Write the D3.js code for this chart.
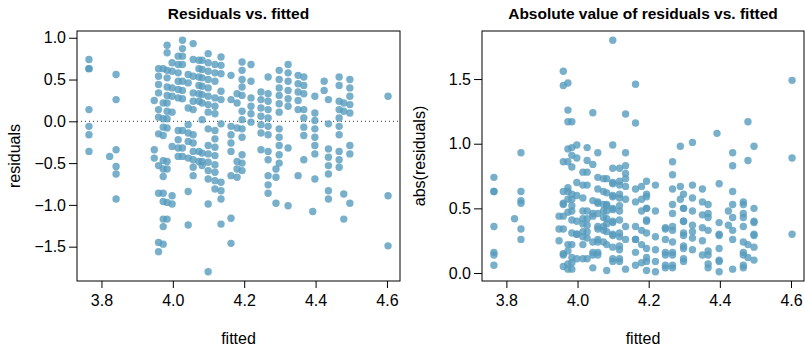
<!DOCTYPE html>
<html>
<head>
<meta charset="utf-8">
<script src="https://cdn.jsdelivr.net/npm/d3@7"></script>
<style>
  body { margin: 0; background: #fff; }
  svg { font-family: "Liberation Sans", Arial, Helvetica, sans-serif; }
</style>
</head>
<body>
<div id="chart"></div>
<script>
// fitted value of each vertical stripe, and the residuals
const fittedLevels = [3.765, 3.823, 3.841, 3.948, 3.96, 3.973, 3.984, 3.998, 4.015, 4.027,
  4.043, 4.057, 4.073, 4.082, 4.099, 4.118, 4.135, 4.163, 4.18, 4.194,
  4.219, 4.247, 4.267, 4.289, 4.298, 4.323, 4.351, 4.367, 4.392, 4.398,
  4.424, 4.436, 4.466, 4.479, 4.496, 4.603];

const residualGroups = [
  [0.74, 0.63, 0.63, 0.14, -0.06, -0.16, -0.36],
  [-0.42],
  [0.56, 0.26, -0.34, -0.54, -0.63, -0.93],
  [0.25, -0.34, -0.44],
  [0.63, 0.54, 0.44, 0.34, 0.14, 0.05, -0.15, -0.53, -0.86, -1.45, -1.56],
  [0.63, 0.22, 0.03, -0.07, -0.17, -0.47, -0.57, -0.66, -0.86, -0.96, -1.17, -1.26, -1.47],
  [0.91, 0.82, 0.61, 0.52, 0.41, 0.31, 0.22, 0.12, 0.03, -0.08, -0.48, -0.57, -0.97, -1.17],
  [0.70, 0.60, 0.40, 0.30, 0.11, -0.30, -0.89, -0.99],
  [0.78, 0.68, 0.58, 0.48, 0.38, 0.28, -0.11, -0.22, -0.32, -0.42],
  [0.97, 0.87, 0.78, 0.68, 0.48, 0.37, 0.27, -0.11, -0.32, -0.42],
  [0.56, 0.46, 0.16, -0.04, -0.14, -0.24, -0.44, -0.84, -1.24],
  [0.93, 0.74, 0.54, 0.34, 0.24, 0.14, -0.16, -0.26, -0.36, -0.46, -0.55, -0.65],
  [0.73, 0.63, 0.53, 0.43, 0.33, 0.24, -0.36, -0.48],
  [0.73, 0.62, 0.52, 0.42, 0.32, 0.22, 0.02, -0.38, -0.48, -0.53],
  [0.81, 0.70, 0.60, 0.50, 0.40, 0.30, 0.20, 0.11, -0.09, -0.29, -0.39, -0.49, -0.59, -0.69, -0.99, -1.80],
  [0.68, 0.58, 0.48, 0.28, 0.18, 0.09, -0.11, -0.21, -0.31, -0.41, -0.52, -0.61, -0.71, -0.81],
  [0.77, 0.67, 0.57, 0.36, 0.26, -0.03, -0.73, -0.83, -0.93, -1.23],
  [0.55, 0.26, -0.06, -0.16, -0.26, -0.36, -0.65, -1.16, -1.46],
  [0.33, 0.22, -0.08, -0.48, -0.57, -0.67],
  [0.71, 0.61, 0.50, 0.41, 0.31, 0.12, 0.02, -0.09, -0.19, -0.40, -0.50, -0.59],
  [0.68, 0.48, 0.28, 0.18, 0.09, -0.01],
  [0.35, 0.26, 0.16, 0.06, -0.04, -0.14, -0.34],
  [0.53, 0.33, 0.24, 0.14, 0.04, -0.06, -0.16, -0.36, -0.46, -0.65, -0.76, -0.86],
  [-0.57, -0.67, -0.98],
  [0.61, 0.50, 0.40, 0.31, 0.21, 0.11, -0.09, -0.19, -0.29, -0.40, -0.50],
  [0.68, 0.58, 0.48, 0.37, 0.27, 0.18, -0.32, -1.01],
  [0.55, 0.45, 0.35, 0.25, 0.14, -0.65],
  [0.53, 0.43, 0.33, 0.14, 0.04, -0.07, -0.17, -0.46],
  [-1.08],
  [0.30, 0.10, 0.01, -0.09, -0.19, -0.29, -0.39, -0.69],
  [0.48, 0.37],
  [0.26, -0.03, -0.33, -0.43, -0.53, -0.63, -0.83, -0.93],
  [0.53, 0.43, 0.24, 0.14, 0.04, -0.06, -0.16, -0.36, -0.46, -0.55],
  [0.22, 0.12, -0.87, -1.17],
  [0.50, 0.40, 0.30, 0.20, 0.10, -0.29, -0.39, -0.98],
  [0.30, -0.89, -1.49]
];

const xTicks = [3.8, 4.0, 4.2, 4.4, 4.6];
const residTicks = [-1.5, -1.0, -0.5, 0.0, 0.5, 1.0];
const absTicks = [0.0, 0.5, 1.0, 1.5];

const width = 805;
const height = 349;
const pointColor = '#569BBD';
const fmt = d3.format('.1f');

const points = [];
fittedLevels.forEach((f, i) => {
  residualGroups[i].forEach(r => points.push({ fitted: f, resid: r }));
});

const svg = d3.select('#chart')
  .append('svg')
  .attr('width', width)
  .attr('height', height);

svg.append('rect')
  .attr('width', width)
  .attr('height', height)
  .attr('fill', '#fff');

// R style range: data extent padded by 4% each side
function padded(ext) {
  const p = (ext[1] - ext[0]) * 0.04;
  return [ext[0] - p, ext[1] + p];
}

function drawPanel(cfg) {
  const x = d3.scaleLinear()
    .domain(padded(d3.extent(points, d => d.fitted)))
    .range([cfg.left, cfg.right]);

  const y = d3.scaleLinear()
    .domain(padded(d3.extent(points, cfg.value)))
    .range([cfg.bottom, cfg.top]);

  const g = svg.append('g');

  // zero reference line
  if (cfg.zeroLine) {
    g.append('line')
      .attr('x1', cfg.left)
      .attr('x2', cfg.right)
      .attr('y1', y(0))
      .attr('y2', y(0))
      .attr('stroke', '#333')
      .attr('stroke-width', 1)
      .attr('stroke-dasharray', '1,3');
  }

  g.append('g')
    .selectAll('circle')
    .data(points)
    .enter()
    .append('circle')
    .attr('cx', d => x(d.fitted))
    .attr('cy', d => y(cfg.value(d)))
    .attr('r', 3.7)
    .attr('fill', pointColor)
    .attr('fill-opacity', 0.8);

  // box
  g.append('rect')
    .attr('x', cfg.left)
    .attr('y', cfg.top)
    .attr('width', cfg.right - cfg.left)
    .attr('height', cfg.bottom - cfg.top)
    .attr('fill', 'none')
    .attr('stroke', '#000')
    .attr('stroke-width', 1);

  const xAxis = g.append('g')
    .attr('transform', `translate(0, ${cfg.bottom})`)
    .call(d3.axisBottom(x).tickValues(xTicks).tickFormat(fmt).tickSize(7).tickPadding(7));
  xAxis.select('.domain').remove();

  const yAxis = g.append('g')
    .attr('transform', `translate(${cfg.left}, 0)`)
    .call(d3.axisLeft(y).tickValues(cfg.yTicks).tickFormat(fmt).tickSize(8).tickPadding(3));
  yAxis.select('.domain').remove();

  g.selectAll('.tick text')
    .style('font-size', '16px')
    .style('font-family', '"Liberation Sans", Arial, sans-serif')
    .attr('fill', '#000');
  g.selectAll('.tick line').attr('stroke', '#000');

  // title
  g.append('text')
    .attr('x', (cfg.left + cfg.right) / 2)
    .attr('y', 19)
    .attr('text-anchor', 'middle')
    .style('font-size', '15.5px')
    .style('font-weight', 'bold')
    .text(cfg.title);

  // axis labels
  g.append('text')
    .attr('x', (cfg.left + cfg.right) / 2)
    .attr('y', 344)
    .attr('text-anchor', 'middle')
    .style('font-size', '16px')
    .text('fitted');

  g.append('text')
    .attr('transform', `translate(${cfg.left - 57}, ${(cfg.top + cfg.bottom) / 2}) rotate(-90)`)
    .attr('text-anchor', 'middle')
    .style('font-size', '16px')
    .text(cfg.yLabel);
}

drawPanel({
  left: 77, right: 400, top: 31, bottom: 281,
  value: d => d.resid,
  yTicks: residTicks,
  zeroLine: true,
  title: 'Residuals vs. fitted',
  yLabel: 'residuals'
});

drawPanel({
  left: 482, right: 804, top: 31, bottom: 281,
  value: d => Math.abs(d.resid),
  yTicks: absTicks,
  zeroLine: false,
  title: 'Absolute value of residuals vs. fitted',
  yLabel: 'abs(residuals)'
});
</script>
</body>
</html>
